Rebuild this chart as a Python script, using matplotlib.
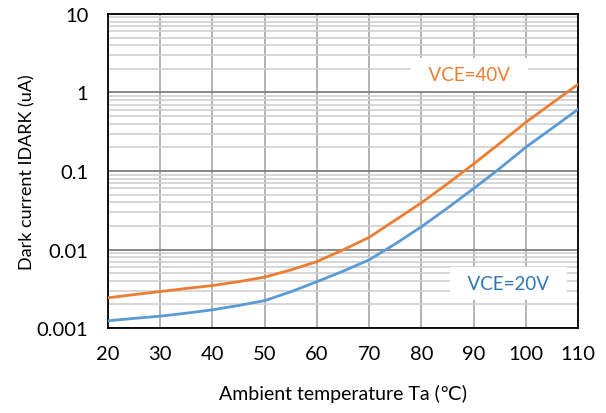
import matplotlib
matplotlib.use("Agg")
import matplotlib.pyplot as plt
from matplotlib.ticker import FixedLocator, LogLocator, NullFormatter, FixedFormatter

plt.rcParams['font.family'] = ['Lato', 'DejaVu Sans']

temps = [20, 25, 30, 35, 40, 45, 50, 55, 60, 65, 70, 75, 80, 85, 90, 95, 100, 105, 110]
vce40 = [0.00243, 0.00267, 0.00292, 0.0032, 0.00348, 0.0039, 0.00446, 0.0055, 0.00703, 0.0099,
         0.0143, 0.0237, 0.0394, 0.069, 0.123, 0.225, 0.417, 0.73, 1.27]
vce20 = [0.00124, 0.00133, 0.00142, 0.00155, 0.00171, 0.00194, 0.00224, 0.0029, 0.0039, 0.0053,
         0.0074, 0.0118, 0.0195, 0.0338, 0.0597, 0.108, 0.201, 0.35, 0.61]
xticks = [20, 30, 40, 50, 60, 70, 80, 90, 100, 110]
yticks = [0.001, 0.01, 0.1, 1, 10]
ylabels = ['0.001', '0.01', '0.1', '1', '10']

fig = plt.figure(figsize=(6.06, 4.14), dpi=100)
ax = fig.add_axes([0.178, 0.205, 0.776, 0.759])
ax.set_yscale('log')
ax.set_xlim(20, 110)
ax.set_ylim(0.001, 10)

ax.yaxis.set_major_locator(FixedLocator(yticks))
ax.yaxis.set_major_formatter(FixedFormatter(ylabels))
ax.yaxis.set_minor_locator(LogLocator(base=10, subs=range(2, 10)))
ax.yaxis.set_minor_formatter(NullFormatter())
ax.xaxis.set_major_locator(FixedLocator(xticks))

ax.grid(True, which='minor', axis='y', color='#d0d0d0', linewidth=1.2)
ax.grid(True, which='major', axis='y', color='#7f7f7f', linewidth=1.3)
ax.grid(True, which='major', axis='x', color='#a6a6a6', linewidth=1.2)
ax.set_axisbelow(True)

ax.plot(temps, vce40, color='#ED7D31', linewidth=2.0, zorder=3)
ax.plot(temps, vce20, color='#5B9BD5', linewidth=2.0, zorder=3)

ax.text(89.2, 1.7, '  VCE=40V  ', color='#ED7D31', fontsize=13.5, ha='center', va='center', zorder=4,
        bbox=dict(facecolor='white', edgecolor='none', pad=6))
ax.text(96.6, 0.00368, '  VCE=20V  ', color='#2E75B6', fontsize=13.5, ha='center', va='center', zorder=4,
        bbox=dict(facecolor='white', edgecolor='none', pad=6))

for s in ax.spines.values():
    s.set_color('black')
    s.set_linewidth(1.3)
ax.tick_params(which='both', length=0, labelsize=14.5)
ax.tick_params(axis='x', pad=12)
ax.tick_params(axis='y', pad=14)

ax.set_xlabel('Ambient temperature Ta (℃)', fontsize=14, labelpad=16)
ax.set_ylabel('Dark current IDARK (uA)', fontsize=13, labelpad=1)

fig.savefig('out.png', dpi=100)
